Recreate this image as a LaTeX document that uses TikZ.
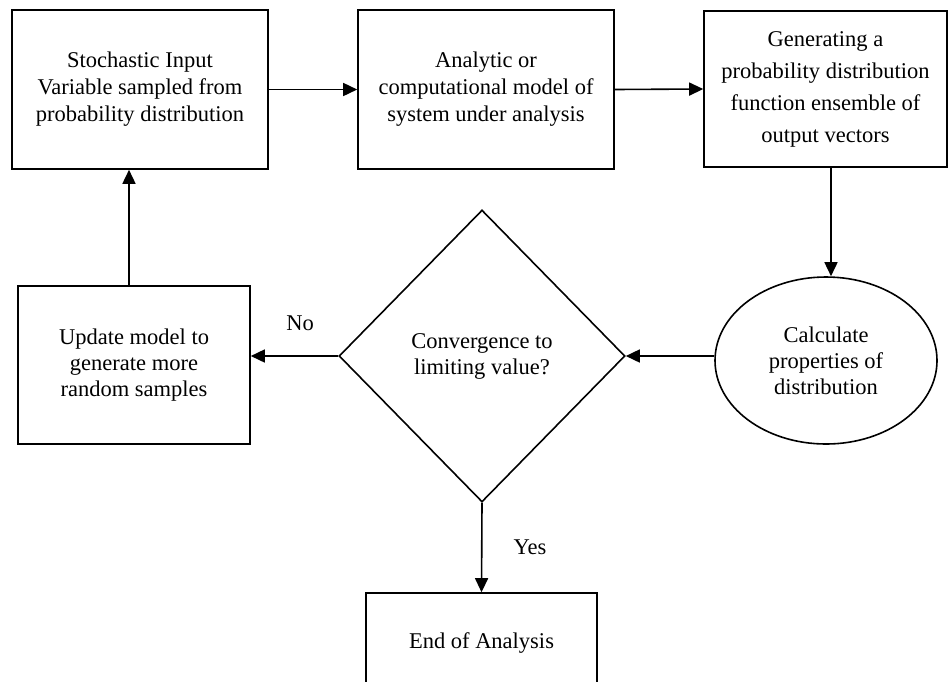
\documentclass[tikz,border=0pt]{standalone}
\usepackage{fontspec}
\setmainfont{Liberation Serif}
\usetikzlibrary{shapes.geometric,arrows.meta}
\tikzset{
  box/.style={draw, line width=1.6pt, inner sep=0pt, align=center, font=\fontsize{22.5}{27}\selectfont},
  arr/.style={line width=1.6pt, -{Triangle[length=14pt,width=13pt]}},
  lbl/.style={font=\fontsize{22.5}{27}\selectfont, inner sep=0pt}
}
\begin{document}
\begin{tikzpicture}[x=1pt,y=-1pt]
\useasboundingbox (0,0) rectangle (949,681);
\node[box, minimum width=256pt, minimum height=159pt] (box1) at (140,89.5)
  {Stochastic Input\\Variable sampled from\\probability distribution};
\node[box, minimum width=256pt, minimum height=159pt] (box2) at (486,89.5)
  {Analytic or\\computational model of\\system under analysis};
\node[box, minimum width=243pt, minimum height=156pt, font=\fontsize{22.5}{32}\selectfont] (box3) at (825.5,89)
  {Generating a\\probability distribution\\function ensemble of\\output vectors};
\node[box, ellipse, minimum width=222pt, minimum height=167pt, font=\fontsize{22.5}{26}\selectfont] (ell) at (826,360.5)
  {Calculate\\properties of\\distribution};
\node[box, diamond, minimum width=286pt, minimum height=292pt, font=\fontsize{22.5}{26}\selectfont] (dia) at (482,356)
  {Convergence to\\limiting value?};
\node[box, minimum width=232pt, minimum height=158pt, font=\fontsize{22.5}{26}\selectfont] (upd) at (134,365)
  {Update model to\\generate more\\random samples};
\node[box, minimum width=231pt, minimum height=100pt] (endb) at (481.5,643)
  {End of Analysis};
\draw[arr] (box1.east) -- (box2.west);
\draw[arr] (box2.east) -- (box3.west);
\coordinate (c3) at (831,0);
\draw[arr] (c3 |- box3.south) -- (c3 |- ell.north);
\draw[arr] (ell.west |- dia.east) -- (dia.east);
\draw[arr] (dia.west) -- (dia.west -| upd.east);
\coordinate (cu) at (129,0);
\draw[arr] (cu |- upd.north) -- (cu |- box1.south);
\draw[arr] (dia.south) -- (endb.north);
\node[lbl] (no) at (300,323) {No};
\node[lbl] (yes) at (530,547) {Yes};
\end{tikzpicture}
\end{document}
